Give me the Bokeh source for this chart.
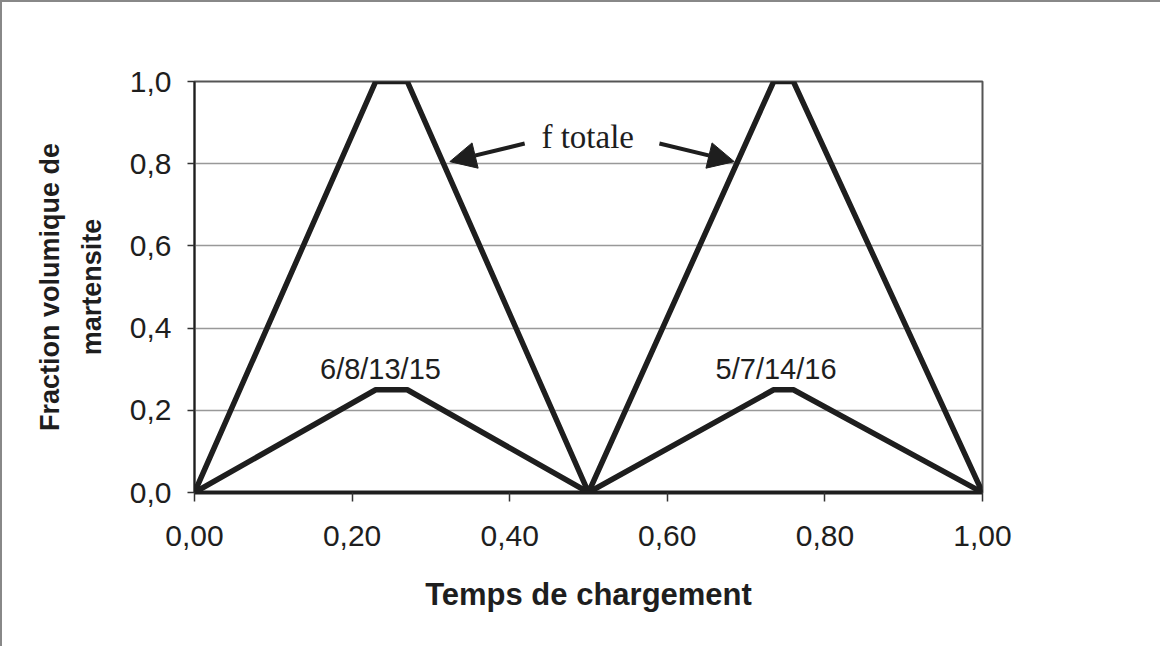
from bokeh.plotting import figure
from bokeh.models import Range1d, FixedTicker, Arrow, NormalHead, Label
from bokeh.embed import file_html
from bokeh.resources import INLINE

# ---- data ----
temps = [0.0, 0.23, 0.27, 0.50, 0.735, 0.76, 1.0]
f_totale = [0.0, 1.0, 1.0, 0.0, 1.0, 1.0, 0.0]
variantes = [0.0, 0.25, 0.25, 0.0, 0.25, 0.25, 0.0]

x_ticks = [0.0, 0.2, 0.4, 0.6, 0.8, 1.0]
x_tick_labels = ["0,00", "0,20", "0,40", "0,60", "0,80", "1,00"]
y_ticks = [0.0, 0.2, 0.4, 0.6, 0.8, 1.0]
y_tick_labels = ["0,0", "0,2", "0,4", "0,6", "0,8", "1,0"]

label_texts = ["6/8/13/15", "5/7/14/16"]
label_x = [0.236, 0.738]
label_y = [0.30, 0.30]

ftot_text = "f totale"
ftot_pos = (0.499, 0.866)
arrow_tails = [(0.419, 0.849), (0.590, 0.849)]
arrow_tips = [(0.324, 0.805), (0.685, 0.805)]

x_title = "Temps de chargement"
y_title = "Fraction volumique de\nmartensite"

FONT = "Liberation Sans"
INK = "#1e1e1e"

p = figure(width=1160, height=646, output_backend="svg", toolbar_location=None,
           x_range=Range1d(0, 1), y_range=Range1d(0, 1),
           min_border_left=192, min_border_right=180,
           min_border_top=79, min_border_bottom=156)
p.styles = {"border-top": "2px solid #888", "border-left": "2px solid #888"}

p.background_fill_color = "white"
p.border_fill_color = "white"
p.outline_line_color = "#555555"
p.outline_line_width = 2

# grid
p.xgrid.visible = False
p.ygrid.ticker = FixedTicker(ticks=y_ticks)
p.ygrid.grid_line_color = "#999999"
p.ygrid.grid_line_width = 1.5

# axes
for ax in (p.xaxis[0], p.yaxis[0]):
    ax.major_label_text_font = FONT
    ax.major_label_text_font_size = "30px"
    ax.major_label_text_color = INK
    ax.axis_label_text_font = FONT
    ax.axis_label_text_font_style = "bold"
    ax.axis_label_text_color = INK
    ax.minor_tick_line_color = None
    ax.major_tick_in = 0
    ax.major_tick_line_color = "#333333"
    ax.major_tick_line_width = 1.5

p.xaxis.ticker = FixedTicker(ticks=x_ticks)
p.xaxis.major_label_overrides = {t: l for t, l in zip(x_ticks, x_tick_labels)}
p.xaxis.major_tick_out = 9
p.xaxis.major_label_standoff = 24
p.xaxis.axis_label = x_title
p.xaxis.axis_label_text_font_size = "31px"
p.xaxis.axis_label_standoff = 28
p.xaxis.axis_line_width = 4
p.xaxis.axis_line_color = INK

p.yaxis.ticker = FixedTicker(ticks=y_ticks)
p.yaxis.major_label_overrides = {t: l for t, l in zip(y_ticks, y_tick_labels)}
p.yaxis.major_tick_out = 7
p.yaxis.major_label_standoff = 16
p.yaxis.axis_label = y_title
p.yaxis.axis_label_text_font_size = "27px"
p.yaxis.axis_label_text_line_height = 1.4
p.yaxis.axis_label_standoff = 20
p.yaxis.axis_line_width = 2
p.yaxis.axis_line_color = INK

# data lines
p.line(temps, f_totale, line_color=INK, line_width=5.5)
p.line(temps, variantes, line_color=INK, line_width=5.5)

# labels
for t, x, y in zip(label_texts, label_x, label_y):
    p.add_layout(Label(x=x, y=y, text=t, text_align="center", text_baseline="middle",
                       text_font=FONT, text_font_size="29px", text_color=INK))

p.add_layout(Label(x=ftot_pos[0], y=ftot_pos[1], text=ftot_text, text_align="center",
                   text_baseline="middle", text_font="Liberation Serif",
                   text_font_size="33px", text_color=INK))

for (x0, y0), (x1, y1) in zip(arrow_tails, arrow_tips):
    p.add_layout(Arrow(x_start=x0, y_start=y0, x_end=x1, y_end=y1,
                       line_color=INK, line_width=4,
                       end=NormalHead(size=26, fill_color=INK, line_color=INK, line_width=1)))

open("out.html", "w").write(file_html(p, INLINE))
